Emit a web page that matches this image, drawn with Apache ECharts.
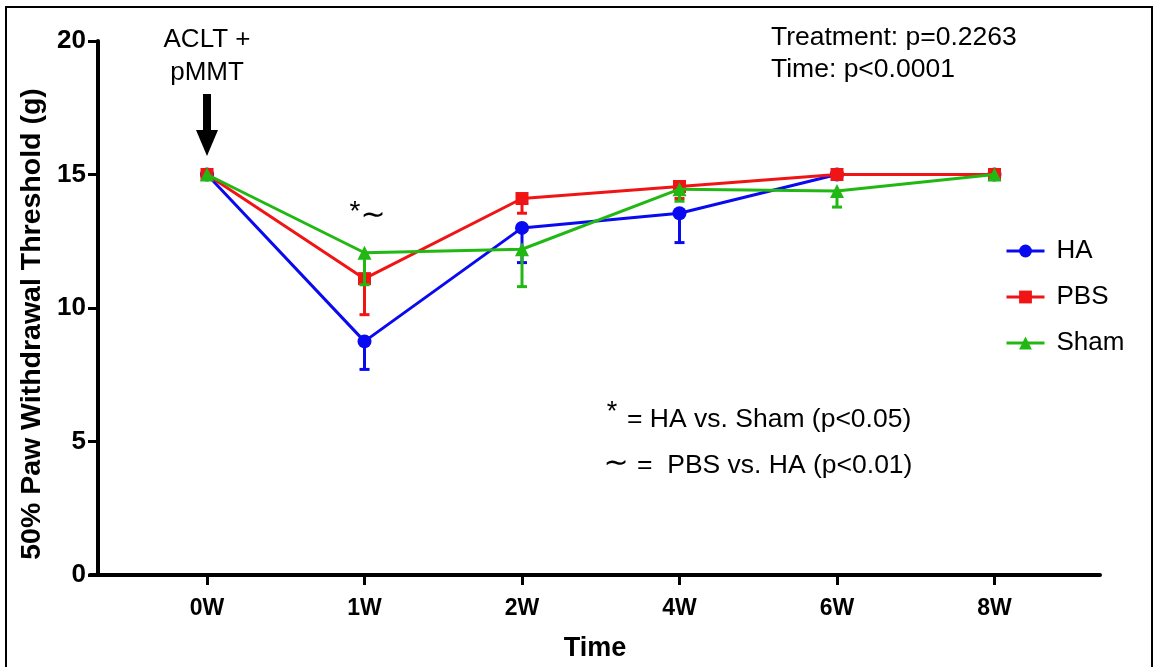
<!DOCTYPE html>
<html><head><meta charset="utf-8">
<script src="https://cdn.jsdelivr.net/npm/echarts@6/dist/echarts.min.js"></script>
<style>html,body{margin:0;padding:0;background:#fff}#c{width:1158px;height:667px}</style>
</head><body><div id="c"></div>
<script>
const categories = ['0W','1W','2W','4W','6W','8W'];
const haMean = [15, 8.75, 13.0, 13.55, 15, 15];
const haSem = [0, 1.05, 1.3, 1.1, 0, 0];
const pbsMean = [15, 11.1, 14.1, 14.55, 15, 15];
const pbsSem = [0, 1.35, 0.55, 0.45, 0, 0];
const shamMean = [15, 12.07, 12.2, 14.45, 14.38, 15];
const shamSem = [0, 1.2, 1.4, 0.45, 0.6, 0];
const seriesNames = ['HA','PBS','Sham'];
const colors = ['#0a0af0', '#f01414', '#22b814'];

const FONT = '"Liberation Sans", Arial, Helvetica, "DejaVu Sans", sans-serif';
const idx = categories.map((c,i)=>i);

function errRender(color){
  return function(params, api){
    const x = api.value(0), m = api.value(1), s = api.value(2);
    if (!s) return null;
    const p0 = api.coord([x, m]);
    const p1 = api.coord([x, m - s]);
    const cw = 5;
    return {type:'group', children:[
      {type:'line', shape:{x1:p0[0], y1:p0[1], x2:p1[0], y2:p1[1]}, style:{stroke:color, lineWidth:3}},
      {type:'line', shape:{x1:p1[0]-cw, y1:p1[1], x2:p1[0]+cw, y2:p1[1]}, style:{stroke:color, lineWidth:3}}
    ]};
  };
}

const means = [haMean, pbsMean, shamMean];
const sems = [haSem, pbsSem, shamSem];
const symbols = ['circle','rect','triangle'];
const symSizes = [14, 13, 14];

const series = [];
for (let k = 0; k < 3; k++) {
  series.push({
    name: seriesNames[k] + ' err', type: 'custom',
    renderItem: errRender(colors[k]),
    data: means[k].map((v,i)=>[i, v, sems[k][i]]),
    z: 2 + k*2, silent: true
  });
  series.push({
    name: seriesNames[k], type: 'line',
    data: means[k].map((v,i)=>[i, v]),
    symbol: symbols[k], symbolSize: symSizes[k],
    lineStyle: {color: colors[k], width: 3},
    itemStyle: {color: colors[k]},
    z: 3 + k*2, animation: false
  });
}

const chart = echarts.init(document.getElementById('c'));
chart.setOption({
  animation: false,
  backgroundColor: '#fff',
  grid: {left: 90, right: 58, top: 41, bottom: 91},
  legend: {
    data: seriesNames, orient: 'vertical', left: 1000, top: 233,
    itemWidth: 38, itemHeight: 16, itemGap: 20,
    lineStyle: {width: 3},
    textStyle: {fontSize: 26, fontFamily: FONT, color: '#000', padding: [0,0,0,7]}
  },
  xAxis: {
    type: 'value', min: -0.743, max: 5.67,
    name: 'Time', nameLocation: 'middle', nameGap: 60,
    nameTextStyle: {fontSize: 27, fontWeight: 'bold', fontFamily: FONT, color: '#000'},
    splitLine: {show: false},
    axisLine: {show: true, onZero: false, lineStyle: {color: '#000', width: 4}},
    axisTick: {show: true, customValues: idx, length: 10, lineStyle: {color: '#000', width: 3}},
    axisLabel: {customValues: idx, formatter: v => categories[Math.round(v)],
      fontSize: 23, fontWeight: 'bold', fontFamily: FONT, color: '#000', margin: 22}
  },
  yAxis: {
    type: 'value', min: 0, max: 20, interval: 5, offset: -8,
    name: '50% Paw Withdrawal Threshold (g)', nameLocation: 'middle', nameGap: 50, nameRotate: 90,
    nameTextStyle: {fontSize: 28.5, fontWeight: 'bold', fontFamily: FONT, color: '#000', padding: [0, 32, 0, 0]},
    splitLine: {show: false},
    axisLine: {show: true, onZero: false, lineStyle: {color: '#000', width: 4}},
    axisTick: {show: true, length: 10, lineStyle: {color: '#000', width: 3}},
    axisLabel: {fontSize: 26, fontWeight: 'bold', fontFamily: FONT, color: '#000', margin: 12}
  },
  graphic: [
    {type:'rect', shape:{x:6, y:7, width:1146, height:700}, style:{fill:'none', stroke:'#000', lineWidth:2}, silent:true},
    {type:'text', x:207, y:40, style:{text:'ACLT +', font:'26px '+FONT, fill:'#000', textAlign:'center', textVerticalAlign:'middle'}},
    {type:'text', x:207, y:73, style:{text:'pMMT', font:'26px '+FONT, fill:'#000', textAlign:'center', textVerticalAlign:'middle'}},
    {type:'rect', shape:{x:203, y:94, width:8, height:40}, style:{fill:'#000'}},
    {type:'polygon', shape:{points:[[196,130],[218,130],[207,156]]}, style:{fill:'#000'}},
    {type:'text', x:771, y:38, style:{text:'Treatment: p=0.2263', font:'26.5px '+FONT, fill:'#000', textVerticalAlign:'middle'}},
    {type:'text', x:771, y:70, style:{text:'Time: p<0.0001', font:'26.5px '+FONT, fill:'#000', textVerticalAlign:'middle'}},
    {type:'text', x:355, y:212, style:{text:'*', font:'28px '+FONT, fill:'#000', textAlign:'center', textVerticalAlign:'middle'}},
    {type:'text', x:373, y:216, style:{text:'∼', font:'30px "DejaVu Sans", sans-serif', fill:'#000', textAlign:'center', textVerticalAlign:'middle'}},
    {type:'text', x:612, y:413, style:{text:'*', font:'27px '+FONT, fill:'#000', textAlign:'center', textVerticalAlign:'middle'}},
    {type:'text', x:627, y:420, style:{text:'= HA vs. Sham (p<0.05)', font:'26.5px '+FONT, fill:'#000', textVerticalAlign:'middle'}},
    {type:'text', x:616, y:464, style:{text:'∼', font:'30px "DejaVu Sans", sans-serif', fill:'#000', textAlign:'center', textVerticalAlign:'middle'}},
    {type:'text', x:637, y:466, style:{text:'=  PBS vs. HA (p<0.01)', font:'26.5px '+FONT, fill:'#000', textVerticalAlign:'middle'}}
  ],
  series: series
});
</script></body></html>
